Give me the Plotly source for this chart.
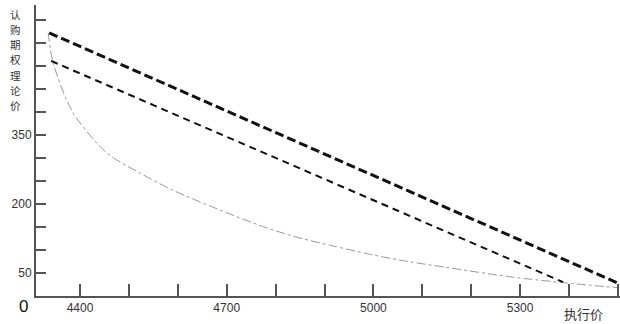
import plotly.graph_objects as go

# data
thick_x = [4337, 5500]
thick_y = [572, 28]
thin_x = [4341, 5388]
thin_y = [511, 30]
curve_x = [4335, 4345, 4386, 4455, 4523, 4590, 4686, 4782, 4850, 4917, 4987, 5054, 5150, 5285, 5388, 5500]
curve_y = [572, 507, 398, 311, 267, 230, 187, 148, 126, 109, 92, 78, 62, 41, 29, 18]
x_ticks = [4400, 4500, 4600, 4700, 4800, 4900, 5000, 5100, 5200, 5300, 5400, 5500]
x_labels = ["4400", "", "", "4700", "", "", "5000", "", "", "5300", "", ""]
y_ticks = [50, 100, 150, 200, 250, 300, 350, 400, 450, 500, 550, 600]
y_labels = ["50", "", "", "200", "", "", "350", "", "", "", "", ""]
y_title = "认购期权理论价"
x_title = "执行价"

W, H = 620, 324
L, R, T, B = 36, 0, 5, 28

fig = go.Figure()
fig.add_trace(go.Scatter(x=curve_x, y=curve_y, mode="lines",
                         line=dict(color="#999999", width=1, dash="dashdot", shape="spline", smoothing=0.8),
                         hoverinfo="skip"))
fig.add_trace(go.Scatter(x=thin_x, y=thin_y, mode="lines",
                         line=dict(color="#111111", width=2, dash="7px,5px"),
                         hoverinfo="skip"))
fig.add_trace(go.Scatter(x=thick_x, y=thick_y, mode="lines",
                         line=dict(color="#111111", width=3, dash="9px,4px"),
                         hoverinfo="skip"))

font = dict(family="Liberation Sans, Arial, sans-serif", size=12, color="#333333")

annotations = []
for i, ch in enumerate(y_title):
    annotations.append(dict(text=ch, xref="paper", yref="paper",
                            x=(15 - L) / (W - L - R), y=1,
                            xanchor="center", yanchor="middle",
                            yshift=-(14 + 15.3 * i - T),
                            showarrow=False,
                            font=dict(family="Noto Sans CJK SC", size=10.5, color="#333333")))
annotations += [
    dict(text=x_title, xref="x", yref="paper", x=5429, y=0,
         xanchor="center", yanchor="middle", yshift=-17,
         showarrow=False,
         font=dict(family="Noto Sans CJK SC", size=13, color="#333333")),
    dict(text="0", xref="paper", yref="paper", x=(23 - L) / (W - L - R), y=0,
         xanchor="center", yanchor="middle", yshift=-10,
         showarrow=False,
         font=dict(family="Liberation Sans, Arial, sans-serif", size=17, color="#111111")),
]

fig.update_layout(
    width=W, height=H,
    margin=dict(l=L, r=R, t=T, b=B, pad=0),
    paper_bgcolor="white", plot_bgcolor="white",
    showlegend=False,
    font=font,
    annotations=annotations,
    xaxis=dict(range=[4310, 4310 + (W - L - R) / 0.489], showgrid=False, zeroline=False,
               showline=True, linecolor="#555555", linewidth=2,
               ticks="inside", ticklen=12, tickwidth=2, tickcolor="#555555",
               tickvals=x_ticks, ticktext=x_labels, tickfont=font),
    yaxis=dict(range=[0, (H - T - B) / 0.46], showgrid=False, zeroline=False,
               showline=True, linecolor="#555555", linewidth=2,
               ticks="inside", ticklen=10, tickwidth=2, tickcolor="#555555",
               tickvals=y_ticks, ticktext=y_labels, tickfont=font),
)

fig.write_html("out.html")
